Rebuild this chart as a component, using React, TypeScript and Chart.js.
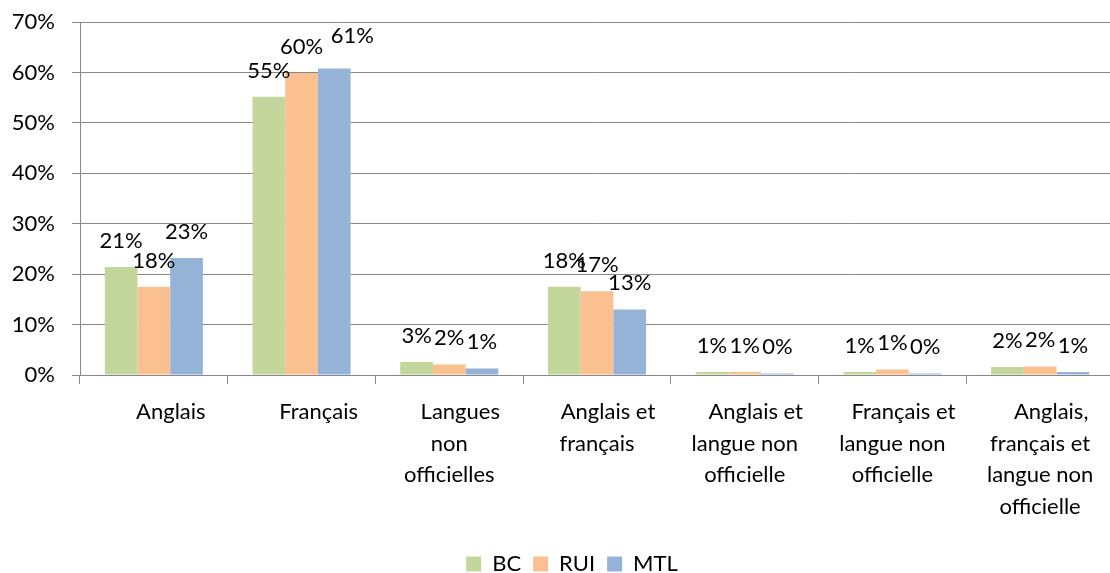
import React, { useEffect, useRef } from 'react';
import { Chart, registerables } from 'chart.js';

Chart.register(...registerables);

const FONT = 'Lato, sans-serif';

const categories: string[][] = [
  ['Anglais'],
  ['Français'],
  ['Langues', 'non', 'officielles'],
  ['Anglais et', 'français'],
  ['Anglais et', 'langue non', 'officielle'],
  ['Français et', 'langue non', 'officielle'],
  ['Anglais,', 'français et', 'langue non', 'officielle'],
];

const seriesNames = ['BC', 'RUI', 'MTL'];
const bcValues = [21.4, 55.2, 2.6, 17.5, 0.6, 0.6, 1.6];
const ruiValues = [17.5, 59.9, 2.1, 16.6, 0.6, 1.1, 1.7];
const mtlValues = [23.2, 60.8, 1.3, 13.0, 0.3, 0.3, 0.6];
const seriesColors = ['#C3D69B', '#FAC090', '#95B3D7'];

const yMin = 0;
const yMax = 70;
const yStep = 10;

// manual nudge of a data label (dataset-index, point-index) as in the source chart
const labelNudge: Record<string, [number, number]> = { '2-1': [18, -6] };

const valueLabels = {
  id: 'valueLabels',
  afterDatasetsDraw(chart: any) {
    const ctx = chart.ctx;
    ctx.save();
    ctx.font = `22px ${FONT}`;
    ctx.fillStyle = '#000';
    ctx.textAlign = 'center';
    ctx.textBaseline = 'alphabetic';
    chart.data.datasets.forEach((ds: any, di: number) => {
      const meta = chart.getDatasetMeta(di);
      meta.data.forEach((bar: any, i: number) => {
        const v = ds.data[i];
        const [dx, dy] = labelNudge[`${di}-${i}`] || [0, 0];
        ctx.fillText(Math.round(v) + '%', bar.x + dx, bar.y - 19 + dy);
      });
    });
    ctx.restore();
  },
};

const xLabels = {
  id: 'xLabels',
  afterDraw(chart: any) {
    const ctx = chart.ctx;
    const xs = chart.scales.x;
    const top = chart.chartArea.bottom;
    ctx.save();
    ctx.font = `22px ${FONT}`;
    ctx.fillStyle = '#000';
    ctx.textAlign = 'center';
    ctx.textBaseline = 'alphabetic';
    (chart.data.labels as string[][]).forEach((lines, i) => {
      const cx = xs.getPixelForValue(i);
      lines.forEach((line, j) => {
        const shift = j === 0 ? (lines.length === 1 ? 17 : 11) : 0;
        ctx.fillText(line, cx + shift, top + 44 + j * 31.7);
      });
    });
    ctx.restore();
  },
};

const legendShift = {
  id: 'legendShift',
  afterLayout(chart: any) {
    if (chart.legend) {
      chart.legend.left += 15;
      chart.legend.right += 15;
    }
  },
};

export default function App() {
  const ref = useRef<HTMLCanvasElement | null>(null);

  useEffect(() => {
    if (!ref.current) return;
    const values = [bcValues, ruiValues, mtlValues];
    const chart = new Chart(ref.current, {
      type: 'bar',
      data: {
        labels: categories,
        datasets: seriesNames.map((name, i) => ({
          label: name,
          data: values[i],
          backgroundColor: seriesColors[i],
          borderWidth: 0,
          barPercentage: 1,
          categoryPercentage: 0.664,
        })),
      },
      options: {
        responsive: false,
        animation: false,
        devicePixelRatio: 1,
        layout: { padding: { left: 0, top: 22, right: 0, bottom: 0 } },
        plugins: {
          tooltip: { enabled: false },
          legend: {
            position: 'bottom',
            labels: {
              boxWidth: 15,
              boxHeight: 15,
              padding: 12,
              color: '#000',
              font: { family: FONT, size: 22 },
            },
          },
        },
        scales: {
          x: {
            grid: {
              offset: true,
              drawOnChartArea: false,
              drawTicks: true,
              tickLength: 9,
              color: '#888',
            },
            border: { color: '#888' },
            ticks: { display: false },
            afterFit: (s: any) => {
              s.height = 166;
              s.paddingLeft = 0;
              s.paddingRight = 0;
            },
          },
          y: {
            min: yMin,
            max: yMax,
            ticks: {
              stepSize: yStep,
              callback: (v: any) => v + '%',
              color: '#000',
              padding: 17,
              font: { family: FONT, size: 22 },
            },
            grid: { color: '#888', tickLength: 8 },
            border: { color: '#888' },
            afterFit: (s: any) => {
              s.width = 80;
              s.paddingTop = 0;
              s.paddingBottom = 0;
            },
          },
        },
      } as any,
      plugins: [valueLabels, xLabels, legendShift],
    });
    return () => chart.destroy();
  }, []);

  return (
    <div
      style={{
        position: 'fixed',
        left: 0,
        top: 0,
        width: 1110,
        height: 573,
        overflow: 'hidden',
        background: '#fff',
      }}
    >
      <canvas ref={ref} width={1114} height={585} style={{ display: 'block' }} />
    </div>
  );
}
